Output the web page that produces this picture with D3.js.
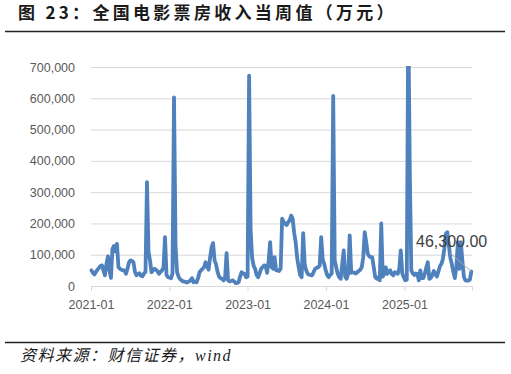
<!DOCTYPE html>
<html>
<head>
<meta charset="utf-8">
<script src="https://cdn.jsdelivr.net/npm/d3@7"></script>
<style>
  html, body { margin: 0; padding: 0; background: #fff; }
  svg { display: block; }
  .tick-label { font-family: "Liberation Sans", Arial, sans-serif; font-size: 12.5px; fill: #595959; }
</style>
</head>
<body>
<svg width="511" height="374"></svg>
<script>
// weekly box office, 万元 ; each year's list starts at firstWeek[year] and steps 7 days
const years = ['2021', '2022', '2023', '2024', '2025'];
const firstWeek = ['2021-01-03', '2022-01-02', '2023-01-01', '2024-01-07', '2025-01-05'];

const values2021 = [50000, 42000, 37000, 45000, 52000, 58000, 64000, 66000, 50000, 34000,
  70000, 95000, 50000, 26000, 119000, 128000, 110000, 135000, 60000, 55000,
  52000, 50000, 50000, 39000, 55000, 75000, 82000, 80000, 76000, 45000,
  34000, 38000, 41000, 33000, 31000, 40000, 45000, 332000, 110000, 82000,
  44000, 50000, 55000, 52000, 47000, 39000, 45000, 50000, 60000, 156000,
  35000, 28000];
const values2022 = [27000, 25000, 40000, 603000, 130000, 45000, 30000, 22000, 18000, 15000,
  14000, 12000, 12000, 15000, 18000, 25000, 12000, 14000, 12000, 25000,
  44000, 50000, 55000, 60000, 76000, 66000, 52000, 90000, 124000, 137000,
  82000, 69000, 45000, 30000, 25000, 23000, 18000, 25000, 105000, 18000,
  15000, 16000, 18000, 15000, 9000, 10000, 12000, 30000, 44000, 40000,
  38000, 28000];
const values2023 = [30000, 672000, 180000, 90000, 65000, 55000, 35000, 28000, 40000, 55000,
  60000, 66000, 64000, 42000, 80000, 140000, 60000, 55000, 92000, 50000,
  50000, 48000, 55000, 215000, 205000, 199000, 195000, 204000, 210000, 225000,
  215000, 170000, 140000, 90000, 60000, 35000, 28000, 169000, 70000, 50000,
  39000, 36000, 35000, 34000, 45000, 55000, 58000, 60000, 65000, 156000,
  85000, 71000, 50000];
const values2024 = [35000, 28000, 35000, 40000, 608000, 82000, 60000, 39000, 28000, 23000,
  70000, 114000, 30000, 23000, 40000, 162000, 42000, 44000, 42000, 40000,
  44000, 48000, 52000, 60000, 92000, 172000, 140000, 103000, 95000, 92000,
  92000, 60000, 28000, 23000, 28000, 18000, 200000, 30000, 39000, 60000,
  39000, 45000, 50000, 38000, 34000, 44000, 42000, 39000, 55000, 114000,
  40000, 28000];
const values2025 = [18000, 20000, 870000, 370000, 50000, 40000, 35000, 40000, 39000, 18000,
  50000, 25000, 25000, 39000, 60000, 76000, 23000, 26000, 35000, 48000,
  38000, 30000, 45000, 62000, 70000, 85000, 120000, 167000, 172000, 130000,
  90000, 70000, 45000, 25000, 60000, 140000, 55000, 140000, 82000, 30000,
  18000, 17000, 17000, 20000, 46300];

const yTicks = [0, 100000, 200000, 300000, 400000, 500000, 600000, 700000];
const xTickLabels = ['2021-01', '2022-01', '2023-01', '2024-01', '2025-01'];
const xEnd = '2025-11-12';
const lastLabel = '46,300.00';

const titleText = '图 23：全国电影票房收入当周值（万元）';
const sourceText = '资料来源：财信证券，wind';

const parseDay = d3.timeParse('%Y-%m-%d');
const parseMonth = d3.timeParse('%Y-%m');
const yearValues = [values2021, values2022, values2023, values2024, values2025];

const data = [];
yearValues.forEach((arr, k) => {
  const start = parseDay(firstWeek[k]);
  arr.forEach((v, i) => data.push({ date: d3.timeDay.offset(start, i * 7), value: v }));
});

const svg = d3.select('svg');
const margin = { left: 91, right: 39, top: 67, bottom: 88 };
const width = +svg.attr('width');
const height = +svg.attr('height');

const xScale = d3.scaleTime()
  .domain([parseMonth(xTickLabels[0]), parseDay(xEnd)])
  .range([margin.left, width - margin.right]);
const yScale = d3.scaleLinear()
  .domain([0, 700000])
  .range([height - margin.bottom, margin.top]);

// title + rules
svg.append('text')
  .attr('x', 18)
  .attr('y', 19)
  .attr('font-family', '"Noto Sans CJK SC", sans-serif')
  .attr('font-weight', 'bold')
  .attr('font-size', 17)
  .attr('letter-spacing', 3.3)
  .attr('fill', '#1a1a1a')
  .text(titleText);
svg.append('line')
  .attr('x1', 5).attr('x2', 505)
  .attr('y1', 31.5).attr('y2', 31.5)
  .attr('stroke', '#222').attr('stroke-width', 1.6);
svg.append('line')
  .attr('x1', 5).attr('x2', 505)
  .attr('y1', 342.5).attr('y2', 342.5)
  .attr('stroke', '#222').attr('stroke-width', 1.6);
svg.append('text')
  .attr('x', 20)
  .attr('y', 361)
  .attr('font-family', '"Liberation Serif", "Noto Sans CJK SC", serif')
  .attr('font-style', 'italic')
  .attr('font-size', 16)
  .attr('letter-spacing', 1.5)
  .attr('fill', '#1a1a1a')
  .text(sourceText);

// y gridlines + labels
const yAxis = d3.axisLeft(yScale)
  .tickValues(yTicks)
  .tickSize(-(width - margin.left - margin.right))
  .tickPadding(16)
  .tickFormat(d3.format(','));
const yAxisG = svg.append('g')
  .attr('transform', `translate(${margin.left},0)`)
  .call(yAxis);
yAxisG.select('.domain').remove();
yAxisG.selectAll('.tick line').attr('stroke', '#d9d9d9').attr('stroke-width', 1);
yAxisG.selectAll('.tick text').attr('class', 'tick-label');

// x axis
const xAxis = d3.axisBottom(xScale)
  .tickValues(xTickLabels.map(parseMonth))
  .tickSize(5)
  .tickPadding(9)
  .tickFormat(d3.timeFormat('%Y-%m'));
const xAxisG = svg.append('g')
  .attr('transform', `translate(0,${yScale(0)})`)
  .call(xAxis);
xAxisG.select('.domain').attr('stroke', '#d9d9d9');
xAxisG.selectAll('.tick line').attr('stroke', '#d9d9d9');
xAxisG.selectAll('.tick text').attr('class', 'tick-label');

// clip the line at the plot top (spike above 700,000 is cut like in the original)
svg.append('clipPath').attr('id', 'plot-clip')
  .append('rect')
  .attr('x', margin.left - 5)
  .attr('y', yScale(700000) - 1)
  .attr('width', width - margin.left - margin.right + 10)
  .attr('height', yScale(0) - yScale(700000) + 10);

const line = d3.line()
  .x(d => xScale(d.date))
  .y(d => yScale(d.value));

svg.append('path')
  .datum(data)
  .attr('clip-path', 'url(#plot-clip)')
  .attr('fill', 'none')
  .attr('stroke', '#4f81bd')
  .attr('stroke-width', 3.8)
  .attr('stroke-linejoin', 'round')
  .attr('stroke-linecap', 'round')
  .attr('d', line);

// data label for the last point
const last = data[data.length - 1];
svg.append('line')
  .attr('x1', 450).attr('y1', 253)
  .attr('x2', xScale(last.date)).attr('y2', yScale(last.value))
  .attr('stroke', '#a6a6a6').attr('stroke-width', 1);
svg.append('text')
  .attr('x', 416)
  .attr('y', 246.5)
  .attr('font-family', '"Liberation Sans", Arial, sans-serif')
  .attr('font-size', 16)
  .attr('fill', '#404040')
  .text(lastLabel);
</script>
</body>
</html>
